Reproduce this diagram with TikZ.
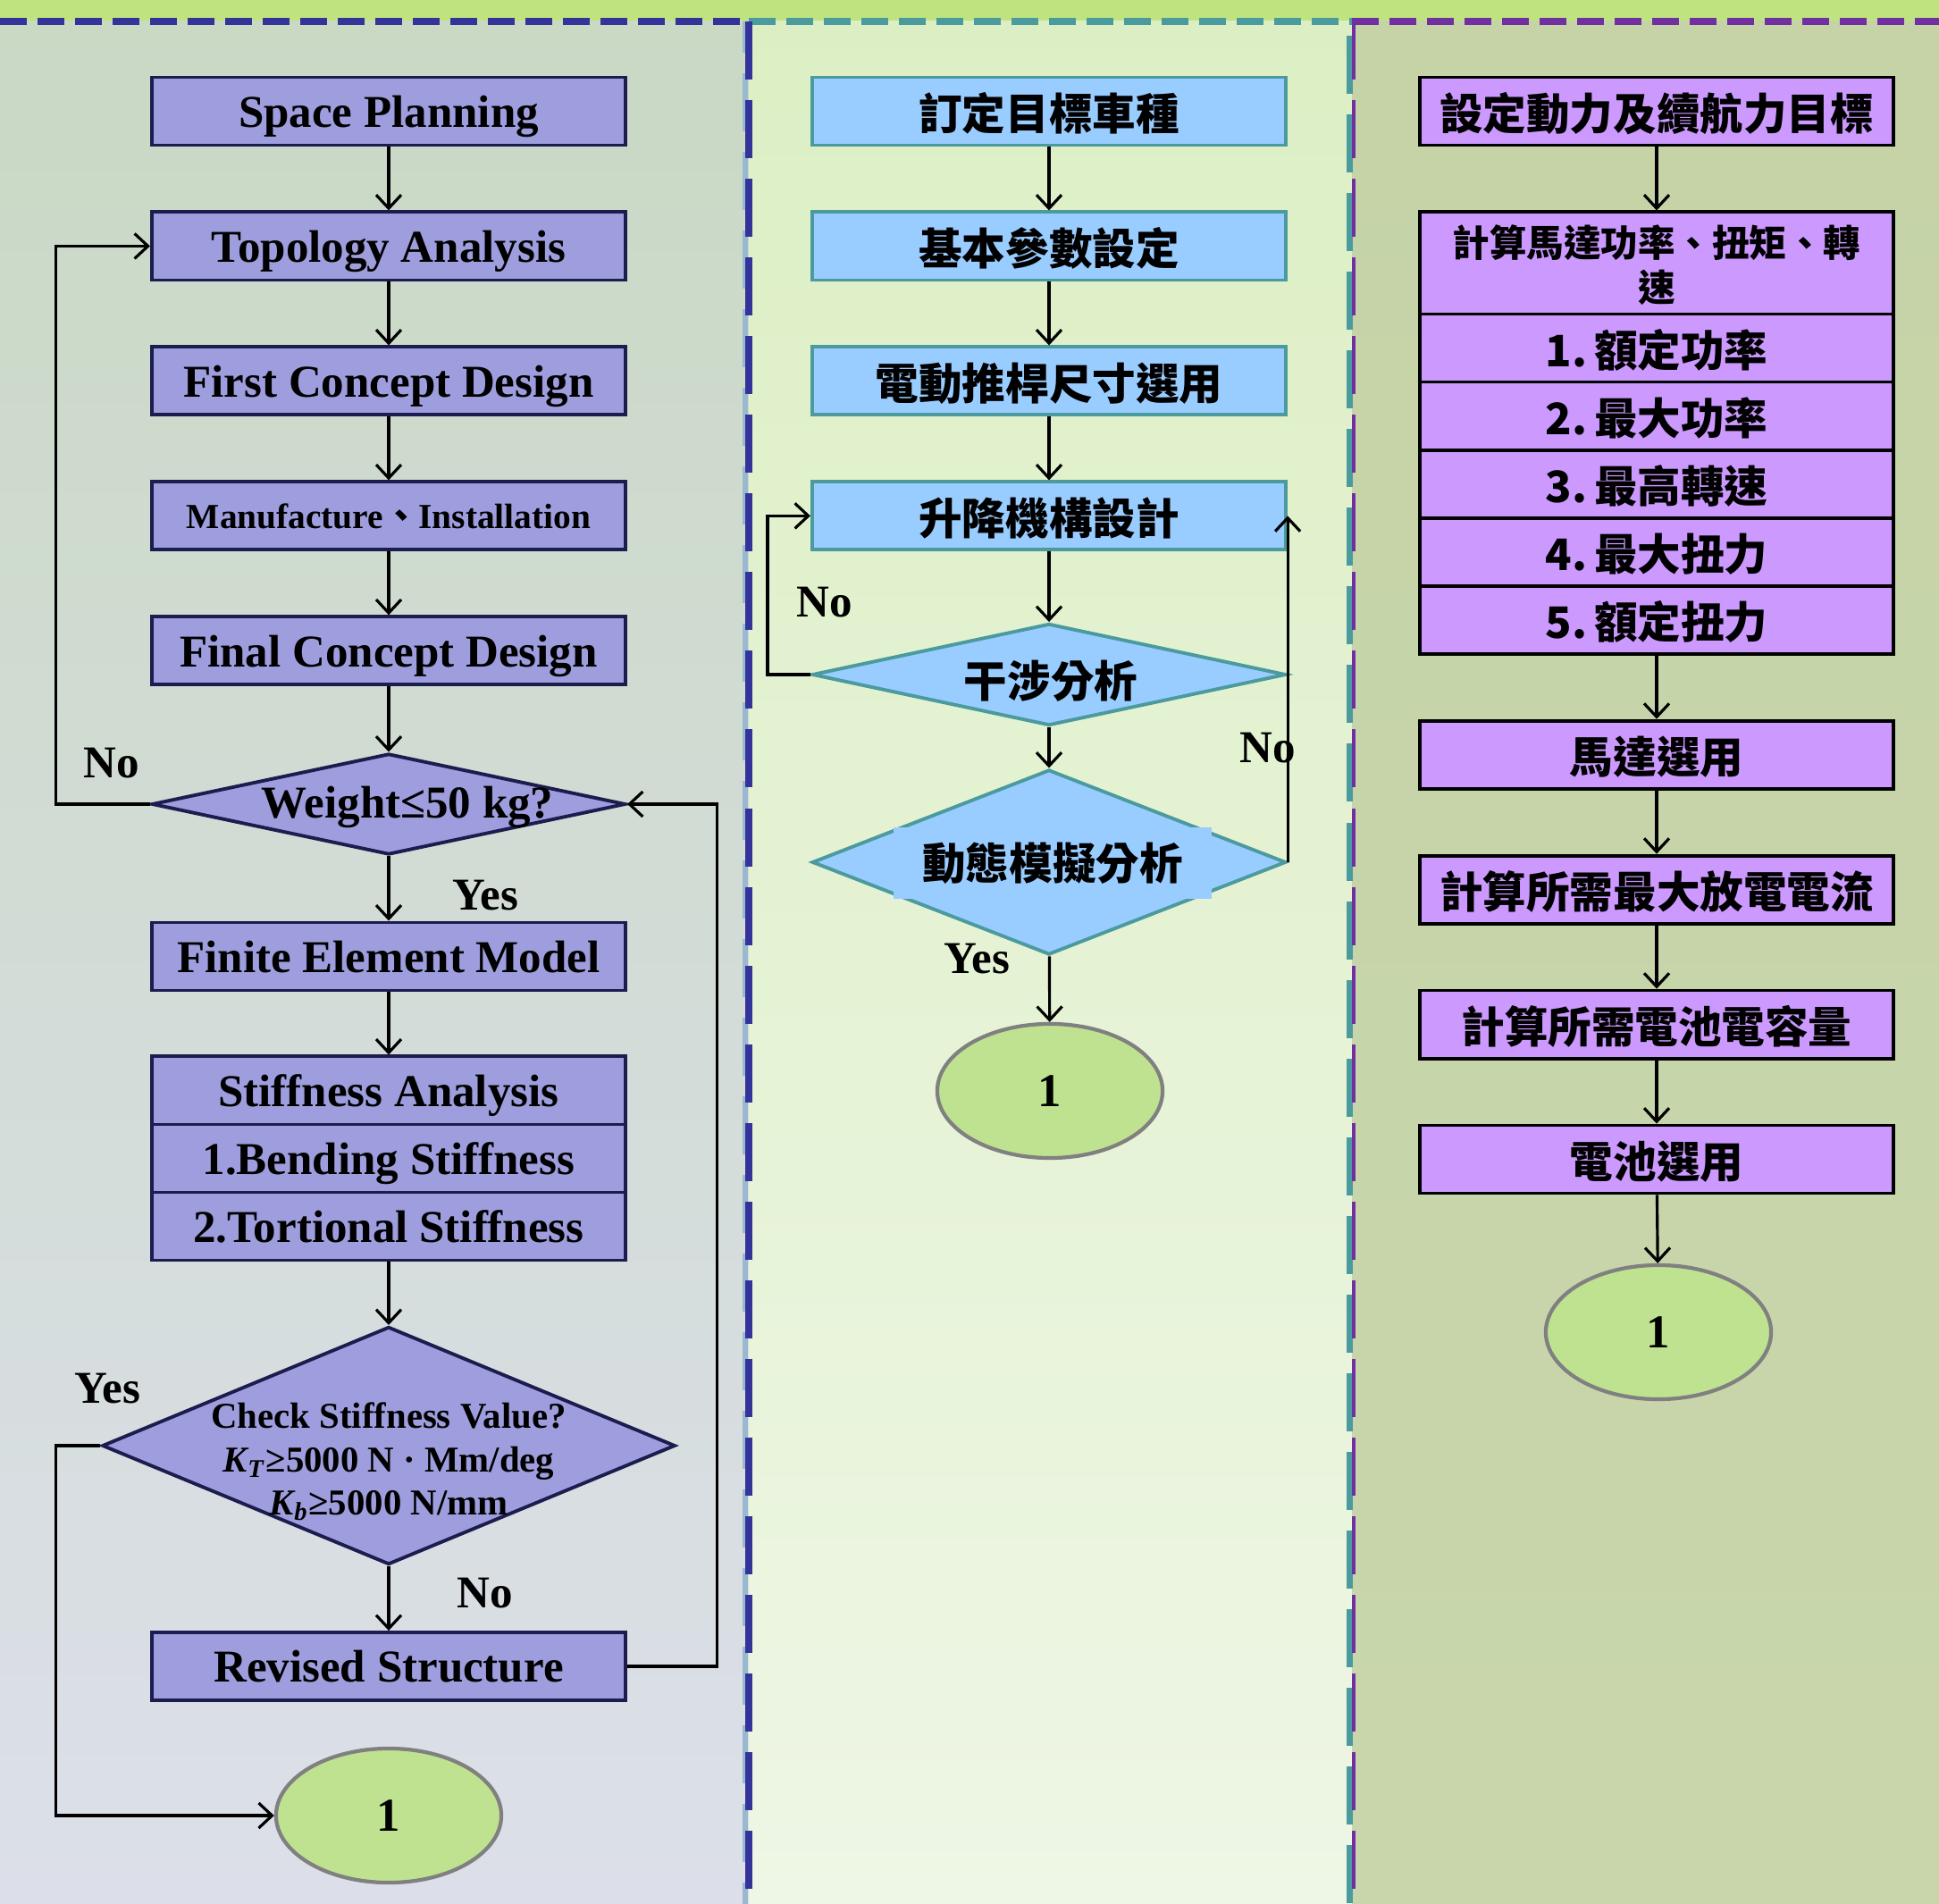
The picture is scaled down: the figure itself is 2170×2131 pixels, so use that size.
\documentclass[tikz,border=0pt]{standalone}
\usepackage{fontspec}
\setmainfont{Liberation Serif}
\newfontfamily\cjk{Noto Sans CJK TC}
\usepackage{tikz}
\usetikzlibrary{arrows.meta, positioning, shapes.geometric}

\definecolor{bandgreen}{HTML}{BFE37E}
\definecolor{navyline}{HTML}{333399}
\definecolor{steelline}{HTML}{9AB8D0}
\definecolor{tealline}{HTML}{4A9A9E}
\definecolor{purpline}{HTML}{7030A0}
\definecolor{lavfill}{HTML}{9E9EDE}
\definecolor{lavdraw}{HTML}{1C1C4E}
\definecolor{skyfill}{HTML}{99CCFF}
\definecolor{lilacfill}{HTML}{CC99FF}
\definecolor{endfill}{HTML}{BFE291}

\begin{document}
\begin{tikzpicture}[
  x=0.01cm, y=-0.01cm,
  >=Stealth,
  % --- shared block base ---
  blkbase/.style={
    minimum width=5.3cm, minimum height=7.6mm,
    inner sep=0pt, line width=1.1pt, align=center, text depth=0pt
  },
  % --- block types ---
  lbox/.style={blkbase, draw=lavdraw, fill=lavfill,
    font=\fontsize{14.5}{17}\selectfont\bfseries},
  mbox/.style={blkbase, draw=tealline, fill=skyfill,
    font=\fontsize{13.8}{16}\selectfont\cjk\bfseries},
  rbox/.style={blkbase, draw=black, fill=lilacfill,
    font=\fontsize{13.8}{16}\selectfont\cjk\bfseries},
  ldia/.style={diamond, inner sep=0pt, line width=1.1pt, draw=lavdraw, fill=lavfill,
    minimum width=5.3cm},
  mdia/.style={diamond, inner sep=0pt, line width=1.1pt, draw=tealline, fill=skyfill,
    minimum width=5.3cm},
  endpt/.style={ellipse, minimum width=2.52cm, minimum height=1.5cm,
    line width=1.2pt, draw=black!50, fill=endfill,
    font=\fontsize{15}{17}\selectfont\bfseries},
  % --- labels ---
  lbl/.style={font=\fontsize{14.5}{17}\selectfont\bfseries},
  ltxt/.style={inner sep=0pt, align=center, font=\fontsize{14.5}{17}\selectfont\bfseries},
  mtxt/.style={inner sep=0pt, font=\fontsize{13.8}{16}\selectfont\cjk\bfseries},
  % --- arrows ---
  arr/.style={-{Straight Barb[length=1.5mm, width=2.8mm]}, line width=0.9pt, draw=black},
  % --- panel borders ---
  hdash/.style={line width=2.2pt, dash pattern=on 0.3cm off 0.12cm},
  vdash/.style={line width=2pt, dash pattern=on 0.65cm off 0.23cm},
]
\useasboundingbox (0,0) rectangle (2170,2131);

% ===================== BACKGROUND =====================

\fill[bandgreen] (0,0) rectangle (2170,24);
\shade[top color={rgb,255:red,201;green,217;blue,196}, bottom color={rgb,255:red,220;green,223;blue,233}]
  (0,24) rectangle (838,2131);
\shade[top color={rgb,255:red,220;green,239;blue,196}, bottom color={rgb,255:red,238;green,246;blue,229}]
  (838,24) rectangle (1513,2131);
\shade[top color={rgb,255:red,197;green,211;blue,167}, bottom color={rgb,255:red,201;green,214;blue,172}]
  (1513,24) rectangle (2170,2131);

\draw[hdash, navyline] (0,24) -- (838,24);
\draw[hdash, tealline] (838,24) -- (1513,24);
\draw[hdash, purpline] (1513,24) -- (2170,24);
\draw[vdash, steelline, dash phase=0.3cm, line width=1.6pt] (834,24) -- (834,2131);
\draw[vdash, navyline] (838,24) -- (838,2131);
\draw[vdash, tealline] (1510,40) -- (1510,2131);
\draw[vdash, purpline, line width=1.2pt] (1515,24) -- (1515,2131);

% ===================== LEFT: STRUCTURE =====================

\node[lbox] (sp) at (435,124.5) {Space Planning};
\node[lbox, below=7.1mm of sp] (topo) {Topology Analysis};
\node[lbox, below=7.1mm of topo] (fcd) {First Concept Design};
\node[lbox, below=7.1mm of fcd, font=\fontsize{11.2}{13}\selectfont\bfseries] (mfi)
  {Manufacture{\cjk 、}Installation};
\node[lbox, below=7.1mm of mfi] (fin) {Final Concept Design};
\node[ldia, minimum height=1.13cm] (wt) at (435,900) {};
\node[ltxt] (wtt) at (456,903) {Weight≤50 kg?};
\node[lbox, below=7.2mm of wt] (fem) {Finite Element Model};
\node[lbox, below=7.0mm of fem] (sa) {Stiffness Analysis};
\node[lbox, below=-1.1pt of sa] (bend) {1.Bending Stiffness};
\node[lbox, below=-1.1pt of bend] (tort) {2.Tortional Stiffness};
\node[ldia, minimum width=6.41cm, minimum height=2.66cm] (chk) at (435,1618) {};
\node[ltxt, font=\fontsize{11.6}{13.7}\selectfont\bfseries] (chkt) at (435,1636)
  {Check Stiffness Value?\\
   \textit{K}\kern-0.5pt\textsubscript{\textit{T}}≥5000 N · Mm/deg\\
   \textit{K}\kern-0.5pt\textsubscript{\textit{b}}≥5000 N/mm};
\node[lbox] (rs) at (435,1865) {Revised Structure};
\node[endpt] (c1) at (435,2032) {1};

\node[lbl] (no1) at (125,854) {No};
\node[lbl] (yes1) at (543,1002) {Yes};
\node[lbl] (yes2) at (120,1554) {Yes};
\node[lbl] (no2) at (543,1783) {No};

\draw[arr] (sp) -- (topo);
\draw[arr] (topo) -- (fcd);
\draw[arr] (fcd) -- (mfi);
\draw[arr] (mfi) -- (fin);
\draw[arr] (fin) -- (wt);
\draw[arr] (wt) -- (fem);
\draw[arr] (fem) -- (sa);
\draw[arr] (tort) -- (chk);
\draw[arr] (chk) -- (rs);
\draw[arr] (wt.west) -- ++(-105,0) |- (topo.west);
\draw[arr] (chk.west) -- ++(-50,0) |- (c1.west);
\draw[arr] (rs.east) -- ++(100,0) |- (wt.east);

% ===================== MIDDLE: LIFT MECHANISM =====================

\node[mbox] (m1) at (1174,124.5) {訂定目標車種};
\node[mbox, below=7.1mm of m1] (m2) {基本參數設定};
\node[mbox, below=7.1mm of m2] (m3) {電動推桿尺寸選用};
\node[mbox, below=7.1mm of m3] (m4) {升降機構設計};
\node[mdia, minimum height=1.14cm] (d1) at (1174,755) {};
\node[mtxt] (d1t) at (1176,762) {干涉分析};
\node[mdia, minimum height=2.07cm] (d2) at (1174,965) {};
\node[mtxt, fill=skyfill, minimum width=3.55cm, minimum height=8mm] (d2t) at (1178,966) {動態模擬分析};
\node[endpt] (c2) at (1175,1221) {1};

\node[lbl] (no3) at (923,674) {No};
\node[lbl] (no4) at (1419,837) {No};
\node[lbl] (yes3) at (1093,1073) {Yes};

\draw[arr] (m1) -- (m2);
\draw[arr] (m2) -- (m3);
\draw[arr] (m3) -- (m4);
\draw[arr] (m4) -- (d1);
\draw[arr] (d1) -- (d2);
\draw[arr] (d2) -- (c2);
\draw[arr] (d1.west) -- ++(-48,0) |- (m4.west);
\draw[arr] (d2.east) -- (d2.east |- m4.east);

% ===================== RIGHT: POWER SYSTEM =====================

\node[rbox] (r1) at (1854,124.5) {設定動力及續航力目標};
\node[rbox, below=7.1mm of r1, minimum height=1.14cm,
  font=\fontsize{11.8}{14}\selectfont\cjk\bfseries] (r2) {計算馬達功率、扭矩、轉\\速};
\node[rbox, below=-1.1pt of r2] (r3) {1.\,額定功率};
\node[rbox, below=-1.1pt of r3] (r4) {2.\,最大功率};
\node[rbox, below=-1.1pt of r4] (r5) {3.\,最高轉速};
\node[rbox, below=-1.1pt of r5] (r6) {4.\,最大扭力};
\node[rbox, below=-1.1pt of r6] (r7) {5.\,額定扭力};
\node[rbox, below=7.1mm of r7] (r8) {馬達選用};
\node[rbox, below=7.1mm of r8] (r9) {計算所需最大放電電流};
\node[rbox, below=7.1mm of r9] (r10) {計算所需電池電容量};
\node[rbox, below=7.1mm of r10] (r11) {電池選用};
\node[endpt] (c3) at (1856,1491) {1};

\draw[arr] (r1) -- (r2);
\draw[arr] (r7) -- (r8);
\draw[arr] (r8) -- (r9);
\draw[arr] (r9) -- (r10);
\draw[arr] (r10) -- (r11);
\draw[arr] (r11) -- (c3);

\end{tikzpicture}
\end{document}
